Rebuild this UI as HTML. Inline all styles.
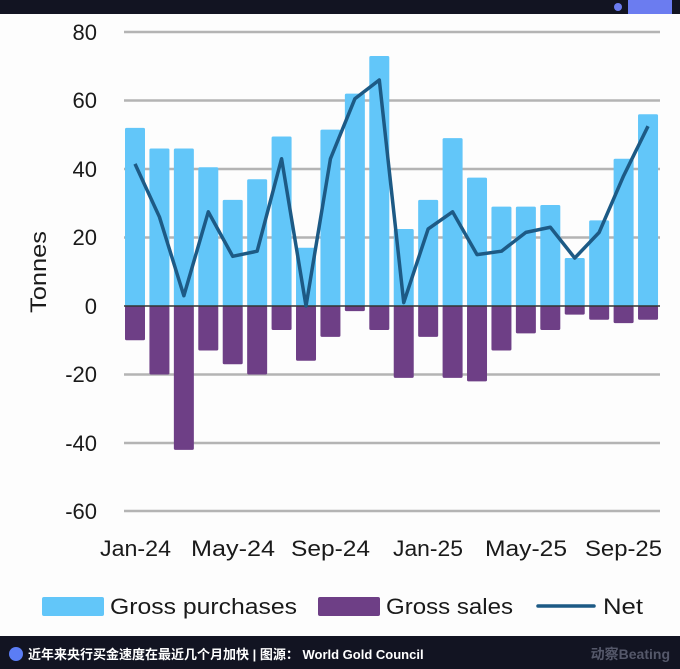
<!DOCTYPE html>
<html><head><meta charset="utf-8"><style>
html,body{margin:0;padding:0;background:#fdfdfd;}
svg{display:block;font-family:"Liberation Sans",sans-serif;}
</style></head><body>
<svg width="680" height="669" viewBox="0 0 680 669" xmlns="http://www.w3.org/2000/svg">
<rect width="680" height="669" fill="#fdfdfd"/>
<rect width="680" height="14" fill="#121422"/>
<circle cx="618" cy="7" r="4" fill="#6b7cf0"/>
<rect x="628" y="0" width="44" height="14" fill="#6b7cf0"/>
<g stroke="#b4b4b4" stroke-width="2.5">
<line x1="124" x2="660" y1="32" y2="32"/>
<line x1="124" x2="660" y1="100.5" y2="100.5"/>
<line x1="124" x2="660" y1="169" y2="169"/>
<line x1="124" x2="660" y1="237.5" y2="237.5"/>
<line x1="124" x2="660" y1="374.5" y2="374.5"/>
<line x1="124" x2="660" y1="443" y2="443"/>
<line x1="124" x2="660" y1="511" y2="511"/>
</g>
<g font-size="22" fill="#1a1a1a" text-anchor="end">
<text x="97" y="40">80</text><text x="97" y="108">60</text><text x="97" y="177">40</text>
<text x="97" y="245">20</text><text x="97" y="314">0</text><text x="97" y="382">-20</text>
<text x="97" y="451">-40</text><text x="97" y="519">-60</text>
</g>
<text transform="translate(46,272) rotate(-90)" font-size="22" fill="#1a1a1a" text-anchor="middle" textLength="82" lengthAdjust="spacingAndGlyphs">Tonnes</text>
<g id="bars"></g>
<line x1="124" x2="660" y1="306" y2="306" stroke="#333" stroke-width="1.5"/>
<polyline id="net" fill="none" stroke="#1d5a85" stroke-width="3.5" stroke-linejoin="round"/>
<g font-size="22" fill="#1a1a1a">
<text x="100" y="556" textLength="71" lengthAdjust="spacingAndGlyphs">Jan-24</text>
<text x="191" y="556" textLength="84" lengthAdjust="spacingAndGlyphs">May-24</text>
<text x="291" y="556" textLength="79" lengthAdjust="spacingAndGlyphs">Sep-24</text>
<text x="393" y="556" textLength="70" lengthAdjust="spacingAndGlyphs">Jan-25</text>
<text x="485" y="556" textLength="82" lengthAdjust="spacingAndGlyphs">May-25</text>
<text x="585" y="556" textLength="77" lengthAdjust="spacingAndGlyphs">Sep-25</text>
<rect x="42" y="597" width="62" height="19" rx="2" fill="#62c6f9"/>
<text x="110" y="614" textLength="187" lengthAdjust="spacingAndGlyphs">Gross purchases</text>
<rect x="318" y="597" width="62" height="19" rx="2" fill="#6e3f86"/>
<text x="386" y="614" textLength="127" lengthAdjust="spacingAndGlyphs">Gross sales</text>
<line x1="538" x2="594" y1="606" y2="606" stroke="#1d5a85" stroke-width="3.5" stroke-linecap="round"/>
<text x="603" y="614" textLength="40" lengthAdjust="spacingAndGlyphs">Net</text>
</g>
<rect x="0" y="636" width="680" height="33" fill="#121422"/>
<circle cx="16" cy="654" r="7" fill="#5b7df5"/>
<text x="28" y="659" font-size="13" font-weight="bold" fill="#ffffff" font-family="'Liberation Sans','Noto Sans CJK SC',sans-serif">近年来央行买金速度在最近几个月加快 | 图源： World Gold Council</text>
<text x="670" y="659" font-size="14" font-weight="bold" fill="#55586a" text-anchor="end" font-family="'Liberation Sans','Noto Sans CJK SC',sans-serif">动察Beating</text>
</svg>
<script>
var p=[52,46,46,40.5,31,37,49.5,17,51.5,62,73,22.5,31,49,37.5,29,29,29.5,14,25,43,56];
var s=[-10,-20,-42,-13,-17,-20,-7,-16,-9,-1.5,-7,-21,-9,-21,-22,-13,-8,-7,-2.5,-4,-5,-4];
var n=[41.5,26,3,27.5,14.5,16,43,0,43,60.5,66,1,22.5,27.5,15,16,21.5,23,14,21.5,38,52.5];
function Y(v){return 306-v*3.425;}
var g=document.getElementById('bars'),h='',pts=[];
for(var i=0;i<22;i++){var cx=135+i*24.43;
h+='<rect x="'+(cx-10)+'" y="'+Y(p[i])+'" width="20" height="'+(306-Y(p[i]))+'" rx="1.5" fill="#62c6f9"/>';
h+='<rect x="'+(cx-10)+'" y="306" width="20" height="'+(Y(s[i])-306)+'" rx="1.5" fill="#6e3f86"/>';
pts.push(cx+','+Y(n[i]));}
g.innerHTML=h;
document.getElementById('net').setAttribute('points',pts.join(' '));
</script>
</body></html>
